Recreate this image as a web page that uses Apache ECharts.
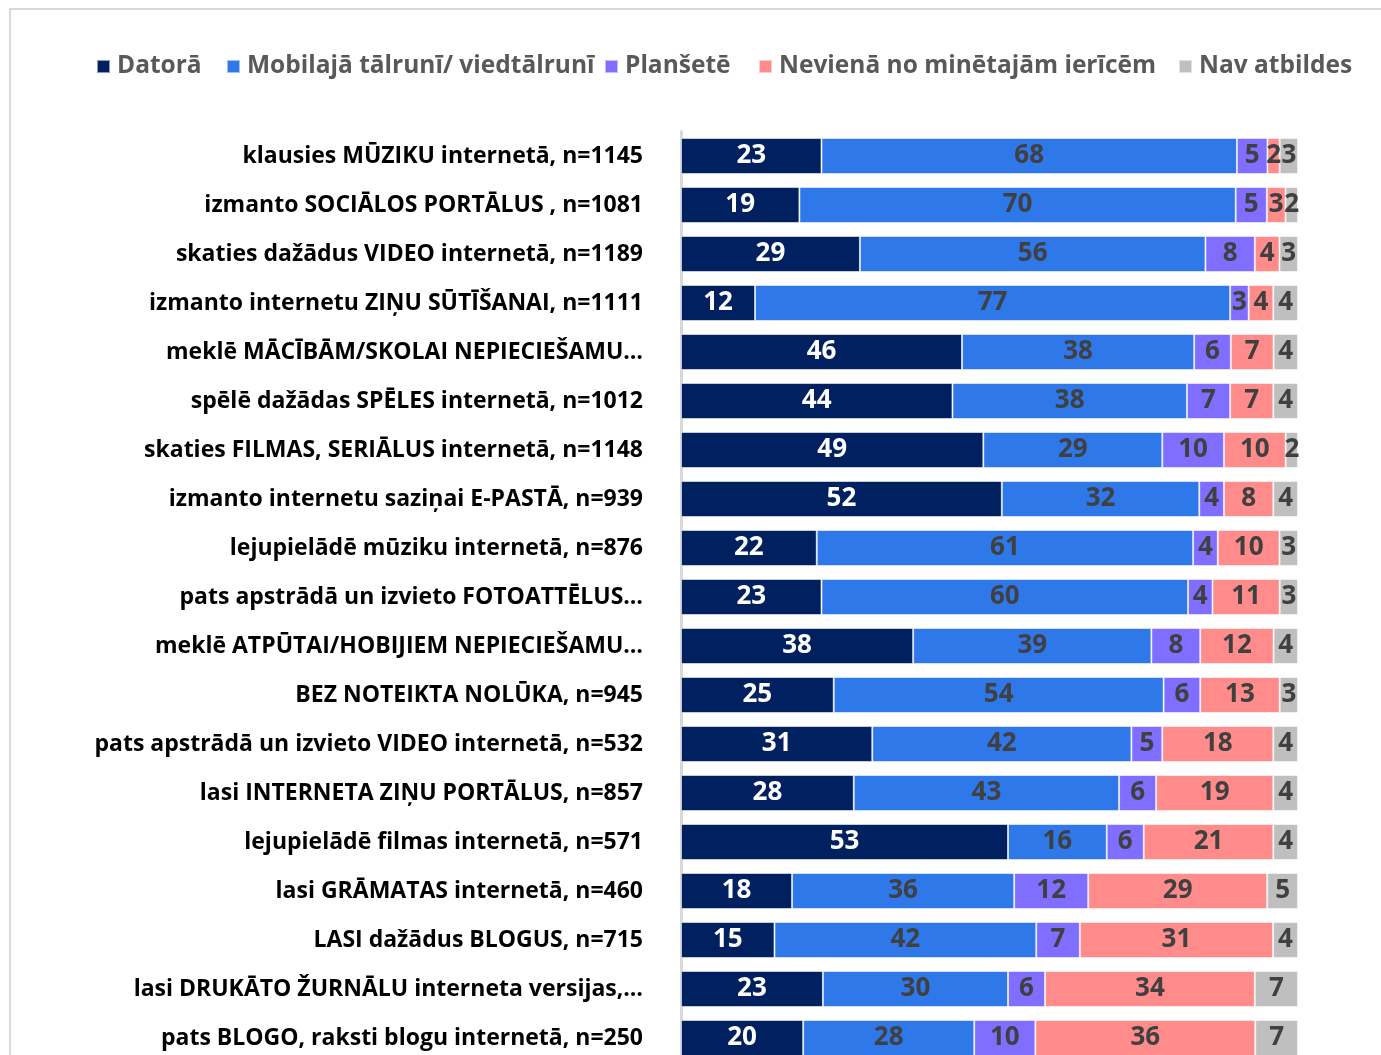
<!DOCTYPE html>
<html>
<head>
<meta charset="utf-8">
<script src="https://cdn.jsdelivr.net/npm/echarts@6/dist/echarts.min.js"></script>
<style>
  html, body { margin: 0; padding: 0; background: #fff; }
  #chart_content { width: 1381px; height: 1055px; }
</style>
</head>
<body>
<div id="chart_content"></div>
<script>
// rindas no augšas uz leju
const categories = [
    'klausies MŪZIKU internetā, n=1145',
    'izmanto SOCIĀLOS PORTĀLUS , n=1081',
    'skaties dažādus VIDEO internetā, n=1189',
    'izmanto internetu ZIŅU SŪTĪŠANAI, n=1111',
    'meklē MĀCĪBĀM/SKOLAI NEPIECIEŠAMU…',
    'spēlē dažādas SPĒLES internetā, n=1012',
    'skaties FILMAS, SERIĀLUS internetā, n=1148',
    'izmanto internetu saziņai E-PASTĀ, n=939',
    'lejupielādē mūziku internetā, n=876',
    'pats apstrādā un izvieto FOTOATTĒLUS…',
    'meklē ATPŪTAI/HOBIJIEM NEPIECIEŠAMU…',
    'BEZ NOTEIKTA NOLŪKA, n=945',
    'pats apstrādā un izvieto VIDEO internetā, n=532',
    'lasi INTERNETA ZIŅU PORTĀLUS, n=857',
    'lejupielādē filmas internetā, n=571',
    'lasi GRĀMATAS internetā, n=460',
    'LASI dažādus BLOGUS, n=715',
    'lasi DRUKĀTO ŽURNĀLU interneta versijas,…',
    'pats BLOGO, raksti blogu internetā, n=250'
];
const seriesNames = ['Datorā', 'Mobilajā tālrunī/ viedtālrunī', 'Planšetē', 'Nevienā no minētajām ierīcēm', 'Nav atbildes'];
const datora   = [23, 19, 29, 12, 46, 44, 49, 52, 22, 23, 38, 25, 31, 28, 53, 18, 15, 23, 20];
const mobilaja = [68, 70, 56, 77, 38, 38, 29, 32, 61, 60, 39, 54, 42, 43, 16, 36, 42, 30, 28];
const plansete = [5, 5, 8, 3, 6, 7, 10, 4, 4, 4, 8, 6, 5, 6, 6, 12, 7, 6, 10];
const neviena  = [2, 3, 4, 4, 7, 7, 10, 8, 10, 11, 12, 13, 18, 19, 21, 29, 31, 34, 36];
const navAtb   = [3, 2, 3, 4, 4, 4, 2, 4, 3, 3, 4, 3, 4, 4, 4, 5, 4, 7, 7];

const colors = ['#002060', '#2E78EA', '#7F6EFF', '#FF8B8B', '#BFBFBF'];
const labelColors = ['#ffffff', '#404040', '#404040', '#404040', '#404040'];
const allData = [datora, mobilaja, plansete, neviena, navAtb];
// leģendas elementu kreisās malas (kā Excel kolonnās), ar 5px legend padding
const legendLeft = [91, 221, 599, 753, 1173];

// 100% sakrautā josla: katru rindu normalizē pēc summas
const rowSums = categories.map((c, i) => allData.reduce((s, arr) => s + arr[i], 0));

let stackChart = {
    __dom: null,
    __chart: null,
    __option: {},
    initChart: function () {
        this.__dom = document.getElementById('chart_content');
        this.__chart = echarts.init(this.__dom);
        this.__option = {
            animation: false,
            textStyle: { fontFamily: 'Open Sans' },
            graphic: [{
                type: 'rect',
                shape: { x: 10, y: 9, width: 1400, height: 1100 },
                style: { fill: 'none', stroke: '#d9d9d9', lineWidth: 2 },
                silent: true
            }],
            legend: seriesNames.map((name, k) => ({
                left: legendLeft[k],
                top: 49,
                itemWidth: 13,
                itemHeight: 13,
                icon: 'rect',
                textStyle: {
                    color: '#595959',
                    fontSize: 24.5,
                    fontWeight: 'bold',
                    fontFamily: 'Open Sans',
                    padding: [0, 0, 0, 2]
                },
                data: [name]
            })),
            grid: {
                left: 681,
                right: 83,
                top: 131.5,
                height: 931,
                outerBoundsMode: 'none',
                containLabel: false
            },
            xAxis: {
                type: 'value',
                min: 0,
                max: 100,
                show: false
            },
            yAxis: {
                type: 'category',
                inverse: true,
                data: categories,
                axisLine: { lineStyle: { color: '#d9d9d9', width: 3 } },
                axisTick: { show: false },
                axisLabel: {
                    margin: 38,
                    color: '#000000',
                    fontSize: 23,
                    fontWeight: 'bold',
                    fontFamily: 'Open Sans'
                }
            },
            series: seriesNames.map((name, k) => ({
                name: name,
                type: 'bar',
                stack: 'total',
                barWidth: 36,
                itemStyle: {
                    color: colors[k],
                    borderColor: 'rgba(255,255,255,0.55)',
                    borderWidth: 1
                },
                label: {
                    show: true,
                    position: 'inside',
                    color: labelColors[k],
                    fontSize: 26,
                    fontWeight: 'bold',
                    fontFamily: 'Open Sans',
                    formatter: p => allData[k][p.dataIndex]
                },
                data: allData[k].map((v, i) => v / rowSums[i] * 100)
            }))
        };
        this.__chart.setOption(this.__option);
    }
};

stackChart.initChart();
</script>
</body>
</html>
